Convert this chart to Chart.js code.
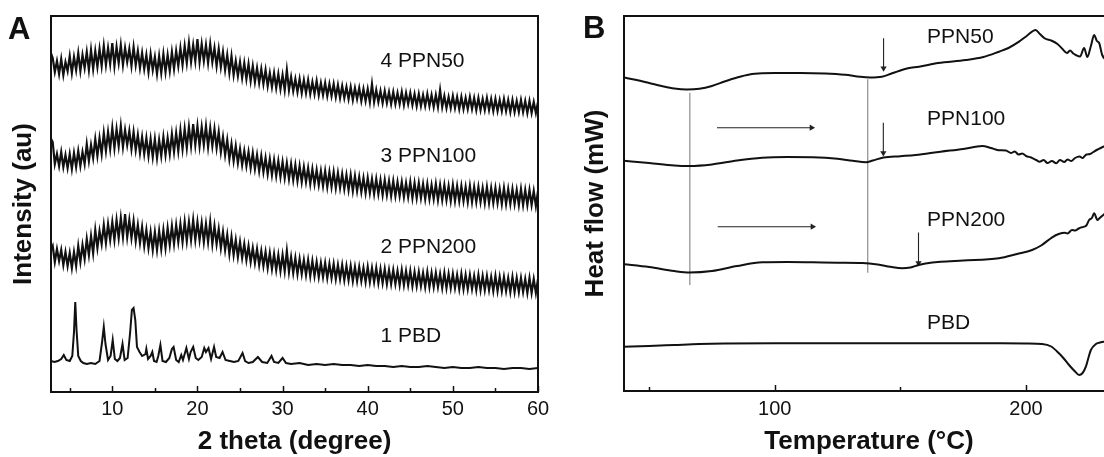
<!DOCTYPE html>
<html><head><meta charset="utf-8">
<script src="https://cdn.jsdelivr.net/npm/chart.js@4.4.1/dist/chart.umd.min.js"></script>
<style>
html,body{margin:0;padding:0;background:#fff;}
#wrap{position:relative;width:1104px;height:457px;overflow:hidden;background:#fff;}
#cA{position:absolute;left:0;top:0;}
#cB{position:absolute;left:560px;top:0;}
</style></head><body>
<div id="wrap"><canvas id="cA" width="560" height="457"></canvas><canvas id="cB" width="610" height="457"></canvas></div>
<script>
// ---------- Panel A: XRD (2 theta grid start/step, intensities in au) ----------
const twoThetaStart = 2.75, twoThetaStep = 0.25;
const xrdPPN50 = [340,
334,320,331,318, 333,317,330,321, 336,319,335,322, 339,321,337,324, 340,322,342,323,
341,325,343,326, 346,327,344,328, 349,326,345,329, 347,327,344,330, 343,326,345,327,
341,324,339,323, 337,320,338,322, 335,318,336,319, 338,320,337,321, 340,323,341,326,
344,327,346,329, 349,330,347,331, 353,330,348,331, 347,329,348,330, 344,326,343,325,
340,322,337,319, 336,317,331,316, 330,314,329,313, 328,311,326,310, 324,309,323,308,
322,306,319,305, 319,304,318,303, 317,302,322,302, 315,301,313,300, 313,299,312,299,
312,298,310,298, 311,297,309,297, 309,296,308,296, 308,295,307,294, 306,294,305,293,
305,292,304,293, 304,291,303,291, 303,290,308,290, 302,290,301,289, 301,289,300,288,
300,288,299,288, 300,287,299,288, 299,287,298,286, 298,286,297,286, 298,286,297,285,
297,285,302,285, 296,284,295,284, 296,284,295,283, 295,283,294,283, 295,283,294,282,
294,282,293,282, 294,282,293,281, 293,281,292,281, 293,281,292,280, 292,280,291,280,
292,280,291,279, 291,279,290,279, 290];
const xrdPPN100 = [254,
250,228,238,226, 240,225,237,224, 238,223,239,225, 241,226,240,228, 248,231,247,234,
253,236,254,238, 259,241,260,243, 264,244,263,246, 266,245,262,247, 261,243,260,242,
257,239,255,238, 254,236,253,235, 253,234,252,236, 255,237,254,238, 258,240,259,241,
262,243,263,244, 265,246,268,247, 266,246,265,247, 266,245,264,246, 263,244,260,240,
255,237,252,233, 248,231,246,229, 243,227,241,226, 240,224,239,223, 237,221,236,220,
234,218,233,217, 232,216,231,215, 230,214,229,213, 228,212,227,211, 226,210,225,210,
224,208,223,208, 222,207,221,206, 221,205,220,205, 220,204,219,204, 218,203,217,202,
217,201,216,201, 215,200,214,199, 214,199,213,198, 213,198,212,197, 212,197,211,196,
211,196,210,196, 210,195,209,195, 210,194,209,194, 209,194,208,193, 208,193,207,193,
208,192,207,192, 207,192,206,191, 207,191,206,191, 206,191,205,190, 206,190,205,190,
205,190,204,189, 205,189,204,189, 204,189,203,188, 204,188,203,188, 203,188,202,187,
203,187,202,187, 202,187,201,186, 201];
const xrdPPN200 = [141,
146,130,143,131, 142,127,140,126, 139,124,140,126, 146,130,147,133, 153,137,156,139,
162,144,161,148, 167,149,168,152, 170,152,172,154, 174,155,178,155, 172,154,171,151,
167,149,165,146, 162,144,160,142, 160,142,161,143, 162,144,164,147, 166,148,167,150,
168,150,170,151, 170,152,172,152, 170,152,169,150, 168,150,170,148, 166,148,163,144,
160,142,157,138, 155,137,152,135, 150,134,148,132, 146,130,144,129, 143,127,141,126,
140,124,139,123, 138,122,137,121, 137,121,141,120, 135,119,134,118, 133,118,132,117,
132,116,131,116, 130,115,129,115, 129,114,128,114, 128,113,127,113, 127,112,126,112,
126,111,125,111, 125,111,124,110, 125,110,124,110, 124,109,123,109, 123,108,122,108,
122,108,121,107, 122,107,121,107, 121,106,120,106, 120,106,119,105, 120,105,119,105,
119,105,118,104, 119,104,118,104, 118,104,117,103, 118,103,117,103, 117,103,116,102,
117,102,116,102, 116,102,115,101, 116,101,115,101, 115,101,114,100, 115,100,114,100,
114,100,113,99, 114,99,113,99, 113];
const xrdPBD = [[2.8,31],[3.2,30],[3.6,31],[4.0,33],[4.3,37],[4.6,32],[5.0,31],[5.3,36],[5.5,60],[5.65,90],[5.8,62],[6.0,36],[6.3,31],[6.6,29],[7.0,28],[7.5,29],[8.0,28],[8.5,31],[8.8,50],[9.0,65],[9.2,48],[9.5,32],[9.8,36],[10.05,52],[10.3,33],[10.6,31],[10.9,34],[11.2,48],[11.45,32],[11.8,34],[12.1,60],[12.3,82],[12.5,84],[12.7,72],[12.9,45],[13.2,40],[13.5,36],[13.9,38],[14.0,43],[14.2,33],[14.5,36],[14.7,40],[14.9,31],[15.2,30],[15.4,36],[15.65,47],[15.9,31],[16.3,30],[16.7,34],[17.0,43],[17.2,45],[17.5,32],[17.8,30],[18.1,37],[18.3,32],[18.7,44],[19.0,33],[19.2,40],[19.5,45],[19.8,34],[20.1,32],[20.5,35],[20.8,44],[21.0,40],[21.3,44],[21.6,33],[21.95,45],[22.2,35],[22.6,34],[22.95,40],[23.3,32],[23.8,31],[24.3,30],[24.8,31],[25.3,39],[25.6,31],[26.0,29],[26.5,30],[27.1,35],[27.6,30],[28.2,29],[28.7,36],[29.0,30],[29.5,29],[30.0,34],[30.4,29],[31.0,28],[32.0,29],[33.0,27],[34.0,28],[35.0,27],[36.0,28],[37.0,27],[38.0,27],[39.0,26],[40.0,27],[41.0,26],[42.0,26],[43.0,25],[44.0,26],[45.0,25],[46.0,25],[47.0,26],[48.0,25],[49.0,24],[50.0,25],[51.0,24],[52.0,24],[53.0,25],[54.0,24],[55.0,24],[56.0,23],[57.0,24],[58.0,24],[59.0,23],[60.0,24]];
const xrdTicks = [5,10,15,20,25,30,35,40,45,50,55,60];
const xrdNames = ['4 PPN50','3 PPN100','2 PPN200','1 PBD'];

// ---------- Panel B: DSC ([temperature °C, heat flow au]) ----------
const dscPPN50 = [[39.5,313.7],[45,311],[50,308],[55,305],[60,302.5],[65,301.5],[70,302.2],[75,305],[80,309.5],[85,313.5],[90,316.5],[95,317.7],[100,318],[110,318],[120,317.5],[128,316.2],[134,314.2],[138,313.6],[142.6,314.3],[146,317],[149.4,320],[153,322.8],[157.4,324.3],[165,328],[176,331],[183,334],[189.2,339.3],[193,343],[197.2,349.3],[200.5,355.5],[203.8,361],[205.5,357],[207.5,352.5],[210,350.5],[212.5,347],[214.5,342],[216.3,338],[217.5,340.5],[218.8,337.5],[219.8,336],[221.5,334.5],[223.1,343],[224.4,334],[225.8,345],[227.1,356],[228.2,350],[229.1,348],[230.3,336],[232,332],[233.5,338],[235,333]];
const dscPPN100 = [[39.5,230.3],[50,228],[60,225.5],[66,225],[75,226.5],[85,230.5],[95,233.3],[105,234],[115,233.8],[125,232.3],[131,230.2],[136.3,228.7],[139,230.5],[143.3,233.5],[150,234.8],[156,236],[166,239.3],[175,242],[182.6,245],[186,243],[189,240.8],[192,240.5],[194,238],[195.5,239.5],[197,236.5],[198.5,237.5],[200,235],[202,233.5],[204,231],[205.4,229.3],[207,231],[208.5,228],[210.3,230],[212,227.8],[213.5,231],[215.2,229],[216.5,231.5],[218,230],[219.5,233],[221.3,234.5],[222.5,233],[224,236.5],[225.5,237],[226.8,239],[228.5,241.5],[230.7,244.3],[233,246],[235,245]];
const dscPPN200 = [[39.5,127],[50,124],[60,120],[66,118.5],[75,120],[85,125],[95,128.7],[105,129],[115,128.7],[125,128.3],[135,128],[141,126.5],[146,124.2],[150.7,122.7],[154,123.5],[157.2,126],[160,127.5],[166,129.3],[175,130.5],[189.2,132.7],[196.4,137],[202.4,141],[206,145.5],[210.4,153.7],[213,157],[215.5,158.2],[216.5,157.5],[218.3,161],[219.5,160.5],[221,162.5],[222.3,163.8],[224,165.5],[225.1,171],[226.2,173],[227.1,177.7],[228.4,171],[229.3,173],[230.5,175.5],[232,179],[233.5,183],[235,186]];
const dscPBD = [[39.5,44.3],[50,45],[60,46],[70,47],[80,47.5],[100,47.7],[150,47.7],[190,47.7],[200,47.5],[206.4,47],[210,44.5],[213.1,37.7],[215,32.5],[217.1,26],[219.3,20],[221.1,16],[222.5,18],[223.8,24.3],[224.8,33],[225.8,41],[227.8,47],[229.1,48.3],[232,49.5],[235,50]];
const dscTicks = [50,100,150,200];
const dscNames = ['PPN50','PPN100','PPN200','PBD'];
// guide lines and arrows (data coordinates)
const dscGuides = [[[66.2,298.3],[66.2,106]], [[137,311.7],[137,118.3]]];
const dscArrowsRight = [[[77,263.3],[114.6,263.3]], [[77.3,164.3],[115,164.3]]];
const dscArrowsDown = [[[143.3,352.7],[143.3,322.8]], [[143.2,268.3],[143.2,238]], [[157.2,158.5],[157.2,128]]];

// ---------- rendering ----------
const FONT = "'Liberation Sans', Arial, Helvetica, sans-serif";
Chart.defaults.font.family = FONT;
Chart.defaults.color = '#111';

const toXY = arr => arr.map(p => ({x: p[0], y: p[1]}));
const gridXY = vals => vals.map((v, i) => ({x: twoThetaStart + i * twoThetaStep, y: v}));

const framePlugin = {
  id: 'frame',
  afterDatasetsDraw(chart, args, o) {
    const {ctx, chartArea: a} = chart;
    const xs = chart.scales.x, ys = chart.scales.y;
    ctx.save();
    ctx.strokeStyle = '#111';
    ctx.lineWidth = 1.5;
    xs.ticks.forEach(t => {
      const px = Math.round(xs.getPixelForValue(t.value)) + 0.5;
      const len = (t.value % o.majorStep === 0) ? 6 : 4;
      ctx.beginPath(); ctx.moveTo(px, a.bottom); ctx.lineTo(px, a.bottom - len); ctx.stroke();
    });
    ctx.lineWidth = 2;
    ctx.strokeRect(a.left, a.top, a.right - a.left, a.bottom - a.top);
    ctx.fillStyle = '#111';
    ctx.font = '21px ' + FONT;
    ctx.textBaseline = 'middle';
    ctx.textAlign = 'left';
    o.labels.forEach(l => ctx.fillText(l.text, xs.getPixelForValue(l.x), ys.getPixelForValue(l.y)));
    ctx.font = 'bold 31px ' + FONT;
    ctx.textBaseline = 'alphabetic';
    ctx.fillText(o.panel, o.panelX, o.panelY);
    ctx.restore();
  }
};

function lineDs(data, width, extra) {
  return Object.assign({data, borderColor: '#111', borderWidth: width, pointRadius: 0, tension: 0, fill: false}, extra || {});
}
function arrowDs(seg, rot) {
  return {data: toXY(seg), borderColor: '#222', borderWidth: 1.1, pointRadius: [0, 3.6], pointHoverRadius: 0,
    pointStyle: 'triangle', pointRotation: rot, pointBackgroundColor: '#222', pointBorderWidth: 0, fill: false, tension: 0};
}
function yAxis(text, pad, width, max) {
  return {type: 'linear', min: 0, max, display: true,
    ticks: {display: false}, grid: {display: false, drawTicks: false}, border: {display: false},
    title: {display: true, text, color: '#111', font: {size: 26, weight: 'bold'}, padding: {top: pad, bottom: 0}},
    afterFit: s => { s.width = width; }};
}
function xAxis(min, max, ticks, step, text, height, pad) {
  return {type: 'linear', min, max,
    afterBuildTicks: s => { s.ticks = ticks.map(v => ({value: v})); },
    ticks: {autoSkip: false, maxRotation: 0, padding: pad, color: '#111', font: {size: 20},
      callback: v => (v % step === 0 ? String(v) : '')},
    grid: {display: false, drawTicks: false}, border: {display: false},
    title: {display: true, text, color: '#111', font: {size: 26, weight: 'bold'}, padding: {top: 0, bottom: 0}},
    afterFit: s => { s.height = height; }};
}

new Chart(document.getElementById('cA'), {
  type: 'line',
  data: {datasets: [
    lineDs(gridXY(xrdPPN50), 2.2),
    lineDs(gridXY(xrdPPN100), 2.2),
    lineDs(gridXY(xrdPPN200), 2.2),
    lineDs(toXY(xrdPBD), 2)
  ]},
  options: {
    responsive: false, animation: false, events: [],
    layout: {padding: {left: 0, right: 22, top: 16, bottom: 0}},
    scales: {x: xAxis(2.8, 60, xrdTicks, 10, '2 theta (degree)', 65, 5), y: yAxis('Intensity (au)', 8, 51, 376)},
    plugins: {legend: {display: false}, tooltip: {enabled: false},
      frame: {majorStep: 10, panel: 'A', panelX: 8, panelY: 39,
        labels: [{text: xrdNames[0], x: 41.5, y: 331}, {text: xrdNames[1], x: 41.5, y: 236},
                 {text: xrdNames[2], x: 41.5, y: 145}, {text: xrdNames[3], x: 41.5, y: 56}]}}
  },
  plugins: [framePlugin]
});

new Chart(document.getElementById('cB'), {
  type: 'line',
  data: {datasets: [
    lineDs(toXY(dscPPN50), 2, {cubicInterpolationMode: 'monotone'}),
    lineDs(toXY(dscPPN100), 2, {cubicInterpolationMode: 'monotone'}),
    lineDs(toXY(dscPPN200), 2, {cubicInterpolationMode: 'monotone'}),
    lineDs(toXY(dscPBD), 2, {cubicInterpolationMode: 'monotone'}),
    ...dscGuides.map(g => lineDs(toXY(g), 1.2, {borderColor: '#8c8c8c'})),
    ...dscArrowsRight.map(s => arrowDs(s, 90)),
    ...dscArrowsDown.map(s => arrowDs(s, 180))
  ]},
  options: {
    responsive: false, animation: false, events: [],
    layout: {padding: {left: 0, right: 56, top: 16, bottom: 0}},
    scales: {x: xAxis(40, 235, dscTicks, 100, 'Temperature (°C)', 66, 6), y: yAxis('Heat flow (mW)', 20, 64, 375)},
    plugins: {legend: {display: false}, tooltip: {enabled: false},
      frame: {majorStep: 100, panel: 'B', panelX: 23, panelY: 38,
        labels: [{text: dscNames[0], x: 160.6, y: 354}, {text: dscNames[1], x: 160.6, y: 272},
                 {text: dscNames[2], x: 160.6, y: 171}, {text: dscNames[3], x: 160.6, y: 68}]}}
  },
  plugins: [framePlugin]
});
</script></body></html>
